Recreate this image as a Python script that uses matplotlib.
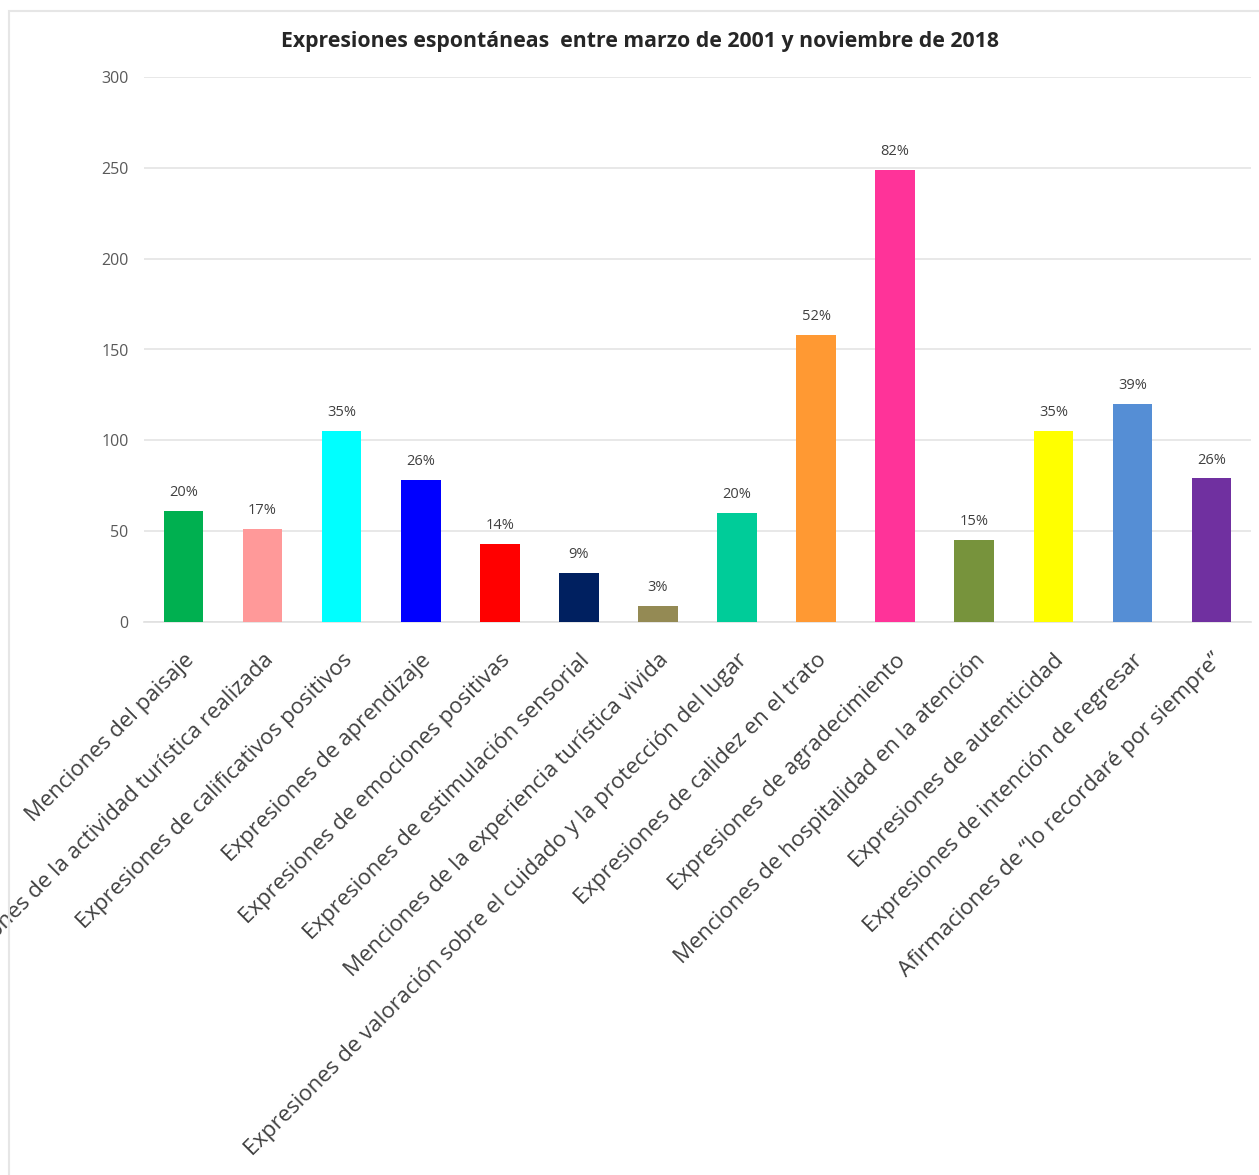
import matplotlib
matplotlib.use("Agg")
import matplotlib.pyplot as plt
from matplotlib.patches import Rectangle

categories = [
    "Menciones del paisaje",
    "Menciones de la actividad turística realizada",
    "Expresiones de calificativos positivos",
    "Expresiones de aprendizaje",
    "Expresiones de emociones positivas",
    "Expresiones de estimulación sensorial",
    "Menciones de la experiencia turística vivida",
    "Expresiones de valoración sobre el cuidado y la protección del lugar",
    "Expresiones de calidez en el trato",
    "Expresiones de agradecimiento",
    "Menciones de hospitalidad en la atención",
    "Expresiones de autenticidad",
    "Expresiones de intención de regresar",
    "Afirmaciones de “lo recordaré por siempre”",
]
values = [61, 51, 105, 78, 43, 27, 9, 60, 158, 249, 45, 105, 120, 79]
pct_labels = ["20%", "17%", "35%", "26%", "14%", "9%", "3%", "20%", "52%",
              "82%", "15%", "35%", "39%", "26%"]
colors = ["#00B050", "#FF9999", "#00FFFF", "#0000FF", "#FF0000", "#002060",
          "#948A54", "#00CC99", "#FF9933", "#FF3399", "#77933C", "#FFFF00",
          "#558ED5", "#7030A0"]
yticks = [0, 50, 100, 150, 200, 250, 300]
title = "Expresiones espontáneas  entre marzo de 2001 y noviembre de 2018"

plt.rcParams['font.family'] = ['Open Sans', 'DejaVu Sans']

W, H = 1259, 1175
fig = plt.figure(figsize=(W / 100, H / 100), dpi=100)
fig.patches.append(Rectangle((9 / W, -0.01), 1.1, 1 - 11 / H + 0.01,
                             transform=fig.transFigure, fill=False,
                             edgecolor="#E6E6E6", linewidth=1.5))

left, right = 144 / W, 1251 / W
bottom, top = 1 - 622 / H, 1 - 77 / H
ax = fig.add_axes([left, bottom, right - left, top - bottom])

x = list(range(len(categories)))
bars = ax.bar(x, values, width=0.5, color=colors, zorder=3)
for b, lab in zip(bars, pct_labels):
    ax.text(b.get_x() + b.get_width() / 2, b.get_height() + 6, lab,
            ha="center", va="bottom", fontsize=10.5, color="#404040")

ax.set_xlim(-0.5, len(categories) - 0.5)
ax.set_ylim(0, 300)
ax.set_yticks(yticks)
ax.set_yticklabels([str(v) for v in yticks], fontsize=11.5, color="#595959")
ax.yaxis.grid(True, color="#E4E4E4", linewidth=1.2, zorder=0)
ax.set_axisbelow(True)
for s in ["top", "right", "left"]:
    ax.spines[s].set_visible(False)
ax.spines["bottom"].set_color("#E0E0E0")
ax.spines["bottom"].set_linewidth(1.2)
ax.tick_params(axis="both", length=0)
ax.tick_params(axis="y", pad=11)

ax.set_xticks(x)
ax.set_xticklabels(categories, rotation=45, ha="right", va="top",
                   rotation_mode="anchor", fontsize=16, color="#404040")
ax.tick_params(axis="x", pad=20)

fig.text(0.508, 1 - 42 / H, title, ha="center", va="center",
         fontsize=15.3, fontweight="bold", color="#262626")

fig.savefig("out.png", dpi=100)
